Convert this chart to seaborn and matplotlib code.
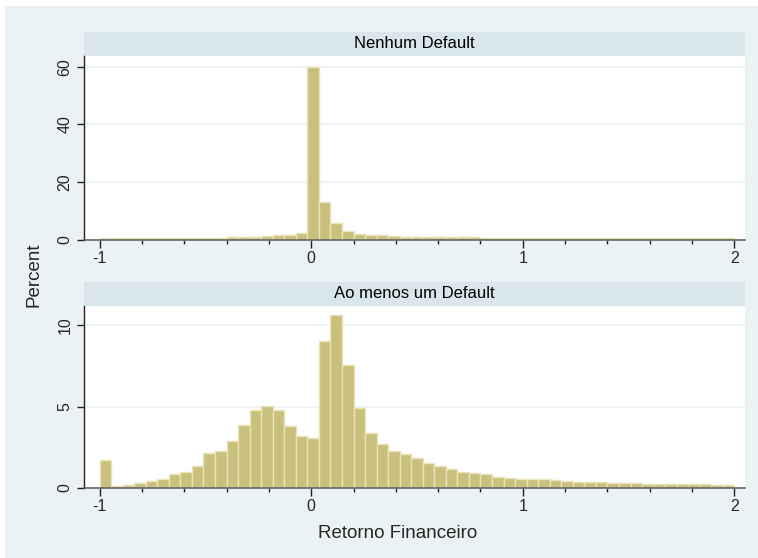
import numpy as np
import pandas as pd
import matplotlib
matplotlib.use("Agg")
import matplotlib.pyplot as plt
import seaborn as sns
from matplotlib.patches import Rectangle

# Histogram of financial return, 55 bins from -1 to 2 (percent per bin)
n_bins = 55
x_range = (-1, 2)
bin_edges = np.linspace(x_range[0], x_range[1], n_bins + 1)
bin_centers = (bin_edges[:-1] + bin_edges[1:]) / 2

nenhum_default = [0.6, 0.6, 0.6, 0.6, 0.6, 0.6, 0.6, 0.6, 0.6, 0.6,
                  0.6, 0.7, 0.9, 1.0, 1.3, 1.4, 1.6, 2.2, 60.0, 12.9,
                  5.9, 3.0, 2.0, 1.7, 1.4, 1.2, 1.0, 0.9, 0.7, 0.7,
                  0.7, 0.7, 0.7, 0.6, 0.6, 0.6, 0.6, 0.6, 0.6, 0.6,
                  0.6, 0.6, 0.6, 0.6, 0.6, 0.5, 0.5, 0.5, 0.5, 0.5,
                  0.5, 0.5, 0.5, 0.5, 0.5]

ao_menos_um = [1.74, 0.1, 0.16, 0.29, 0.45, 0.53, 0.88, 0.98, 1.33, 2.13,
               2.30, 2.89, 3.87, 4.76, 5.02, 4.76, 3.83, 3.22, 3.05, 9.0,
               10.6, 7.52, 4.92, 3.38, 2.67, 2.30, 2.07, 1.86, 1.52, 1.32,
               1.19, 0.99, 0.94, 0.87, 0.70, 0.64, 0.57, 0.57, 0.53, 0.47,
               0.43, 0.36, 0.35, 0.35, 0.33, 0.33, 0.32, 0.27, 0.25, 0.25,
               0.25, 0.25, 0.24, 0.20, 0.20]

panel_titles = ["Nenhum Default", "Ao menos um Default"]
y_ticks = [[0, 20, 40, 60], [0, 5, 10]]
y_limits = [(0, 63.8), (0, 11.17)]

sns.set_style("white")
plt.rcParams["font.family"] = ["Liberation Sans", "DejaVu Sans"]

bg = "#EAF2F3"
strip = "#D9E6EB"
bar_fill = "#C9C07E"
bar_edge = "#E9E3B6"

fig = plt.figure(figsize=(7.58, 5.58), dpi=100, facecolor="white")
fig.patches.append(Rectangle((5 / 758, 0), 1, 1 - 6 / 558, transform=fig.transFigure,
                             facecolor=bg, edgecolor="none", zorder=-10))

left, right = 83.5 / 758, 745 / 758
ax_top = fig.add_axes([left, 1 - 239.5 / 558, right - left, (239.5 - 56) / 558])
ax_bot = fig.add_axes([left, 1 - 488 / 558, right - left, (488 - 306) / 558])

for ax, vals, title, yt, yl in zip([ax_top, ax_bot], [nenhum_default, ao_menos_um],
                                   panel_titles, y_ticks, y_limits):
    df = pd.DataFrame({"retorno": bin_centers, "percent": vals})
    sns.histplot(data=df, x="retorno", weights="percent", bins=n_bins, binrange=x_range,
                 color=bar_fill, alpha=1, edgecolor=bar_edge, linewidth=1, ax=ax)
    ax.set_facecolor("white")
    ax.set_xlim(-1.076, 2.05)
    ax.set_ylim(*yl)
    ax.set_yticks(yt)
    ax.set_xticks([-1, 0, 1, 2])
    ax.set_xticklabels(["-1", "0", "1", "2"])
    ax.set_xticks(np.arange(-0.8, 2.0, 0.2), minor=True)
    ax.grid(axis="y", color=bg, linewidth=1.2)
    ax.set_axisbelow(True)
    ax.set_xlabel("")
    ax.set_ylabel("")
    for s in ["top", "right"]:
        ax.spines[s].set_visible(False)
    ax.spines["left"].set_color("#222222")
    ax.spines["bottom"].set_color("#666666")
    ax.spines["left"].set_linewidth(1)
    ax.spines["bottom"].set_linewidth(1.2)
    ax.tick_params(axis="y", which="major", direction="out", length=5, width=1,
                   color="#222222", labelsize=11.5, labelrotation=90, pad=3, left=True)
    for lab in ax.get_yticklabels():
        lab.set_va("center")
    ax.tick_params(axis="x", which="major", direction="out", length=6, width=1,
                   color="#222222", labelsize=11.5, pad=2, bottom=True)
    ax.tick_params(axis="x", which="minor", direction="out", length=3, width=1,
                   color="#222222", bottom=True)
    # strip title above the plot area
    h = 24 / (ax.get_position().height * 558)
    ax.add_patch(Rectangle((0, 1), 1, h, transform=ax.transAxes, facecolor=strip,
                           edgecolor="none", clip_on=False))
    ax.text(0.5, 1 + h / 2, title, transform=ax.transAxes, ha="center", va="center",
            fontsize=12, color="black")

fig.text(34 / 758, 1 - 275 / 558, "Percent", rotation=90, ha="center", va="center",
         fontsize=13.5)
fig.text(398 / 758, 1 - 534 / 558, "Retorno Financeiro",
         ha="center", va="center", fontsize=13.5)

fig.savefig("out.png", dpi=100, facecolor=fig.get_facecolor())
